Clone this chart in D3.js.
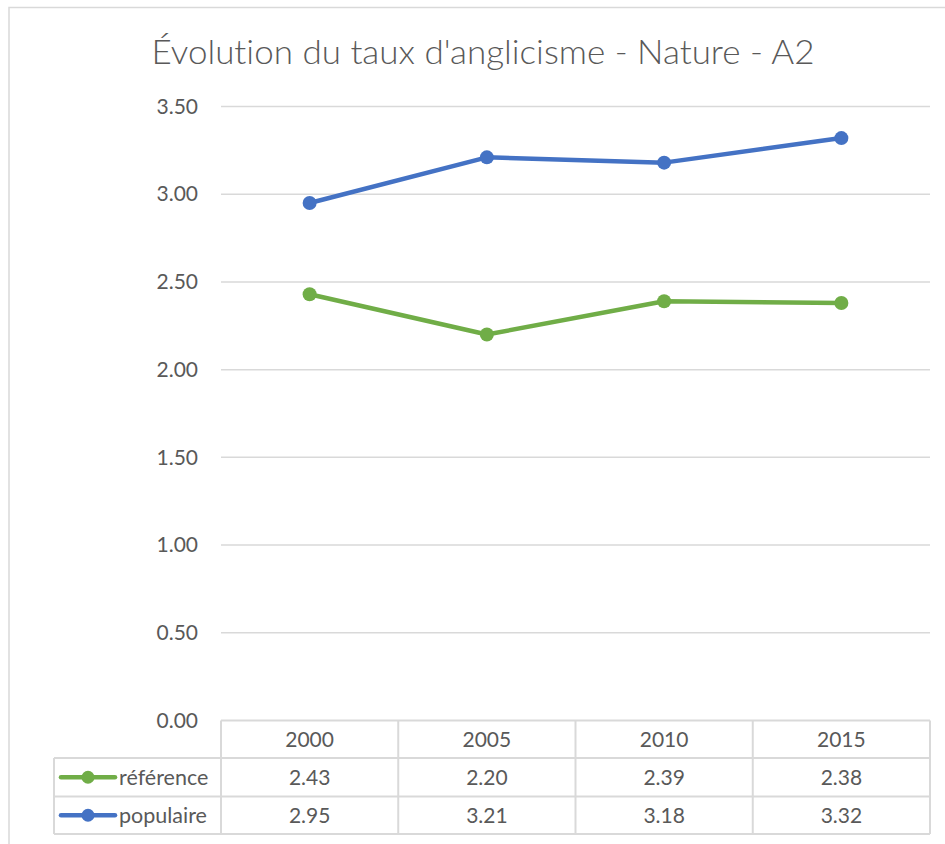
<!DOCTYPE html>
<html><head><meta charset="utf-8">
<script src="https://cdn.jsdelivr.net/npm/d3@7"></script>
<style>body{margin:0;background:#fff;}svg{display:block;font-family:Lato,"Open Sans",sans-serif;font-variant-ligatures:none;}</style>
</head><body>
<svg id="c" width="945" height="844"></svg>
<script>
const years = ["2000","2005","2010","2015"];
const reference = [2.43, 2.20, 2.39, 2.38];
const populaire = [2.95, 3.21, 3.18, 3.32];
const yTicks = [0, 0.5, 1, 1.5, 2, 2.5, 3, 3.5];
const seriesNames = ["référence","populaire"];
const seriesColors = ["#70ad47","#4472c4"];
const title = "Évolution du taux d'anglicisme - Nature - A2";

const svg = d3.select("#c");
const txt = "#595959", grid = "#d9d9d9";
svg.append("rect").attr("x",9).attr("y",7.5).attr("width",960).attr("height",860)
  .attr("fill","#fff").attr("stroke","#d9d9d9").attr("stroke-width",1.5);

svg.append("text").attr("x",483).attr("y",64).attr("text-anchor","middle")
  .attr("font-size",33).attr("fill",txt).attr("font-weight",300)
  .attr("textLength",663).attr("lengthAdjust","spacingAndGlyphs").text(title);

const x = d3.scaleBand().domain(years).range([221,930]);
const y = d3.scaleLinear().domain([0,3.5]).range([720.5,106.5]);

const fs = 21;
const yAxis = d3.axisLeft(y).tickValues(yTicks).tickFormat(d3.format(".2f")).tickSize(0).tickPadding(0);
const gy = svg.append("g").attr("transform","translate(198,0)").call(yAxis);
gy.select(".domain").remove();
gy.selectAll("text").attr("font-size",fs).attr("fill",txt).attr("font-family","Lato,sans-serif");

svg.append("g").selectAll("line").data(yTicks.filter(d=>d>0)).join("line")
  .attr("x1",221).attr("x2",930).attr("y1",d=>y(d)).attr("y2",d=>y(d))
  .attr("stroke",grid).attr("stroke-width",1.5);

const rowTop = [720.5, 758, 796.5, 834];
const tbl = svg.append("g").attr("stroke",grid).attr("stroke-width",2).attr("fill","none");
tbl.append("line").attr("x1",221).attr("x2",930).attr("y1",rowTop[0]).attr("y2",rowTop[0]);
[1,2,3].forEach(i=>tbl.append("line").attr("x1",54).attr("x2",930).attr("y1",rowTop[i]).attr("y2",rowTop[i]));
tbl.append("line").attr("x1",54).attr("x2",54).attr("y1",rowTop[1]).attr("y2",rowTop[3]);
years.forEach(yr=>tbl.append("line").attr("x1",x(yr)).attr("x2",x(yr)).attr("y1",rowTop[0]).attr("y2",rowTop[3]));
tbl.append("line").attr("x1",930).attr("x2",930).attr("y1",rowTop[0]).attr("y2",rowTop[3]);

svg.append("g").selectAll("text").data(years).join("text")
  .attr("x",d=>x(d)+x.bandwidth()/2).attr("y",(rowTop[0]+rowTop[1])/2+7.5)
  .attr("text-anchor","middle").attr("font-size",fs).attr("fill",txt).text(d=>d);

const allSeries = [reference, populaire];
allSeries.forEach((vals,i)=>{
  const cy = (rowTop[i+1]+rowTop[i+2])/2;
  svg.append("g").selectAll("text").data(vals).join("text")
    .attr("x",(d,j)=>x(years[j])+x.bandwidth()/2).attr("y",cy+7.5)
    .attr("text-anchor","middle").attr("font-size",fs).attr("fill",txt).text(d=>d.toFixed(2));
  svg.append("line").attr("x1",61).attr("x2",115).attr("y1",cy).attr("y2",cy)
    .attr("stroke",seriesColors[i]).attr("stroke-width",4.5).attr("stroke-linecap","round");
  svg.append("circle").attr("cx",88).attr("cy",cy).attr("r",6.5).attr("fill",seriesColors[i]);
  svg.append("text").attr("x",119).attr("y",cy+7.5).attr("font-size",fs+0.5).attr("fill",txt).text(seriesNames[i]);
});

const line = d3.line().x((d,j)=>x(years[j])+x.bandwidth()/2).y(d=>y(d));
allSeries.forEach((vals,i)=>{
  svg.append("path").datum(vals).attr("d",line).attr("fill","none")
    .attr("stroke",seriesColors[i]).attr("stroke-width",4.5).attr("stroke-linejoin","round");
  svg.append("g").selectAll("circle").data(vals).join("circle")
    .attr("cx",(d,j)=>x(years[j])+x.bandwidth()/2).attr("cy",d=>y(d)).attr("r",7)
    .attr("fill",seriesColors[i]);
});
</script>
</body></html>
